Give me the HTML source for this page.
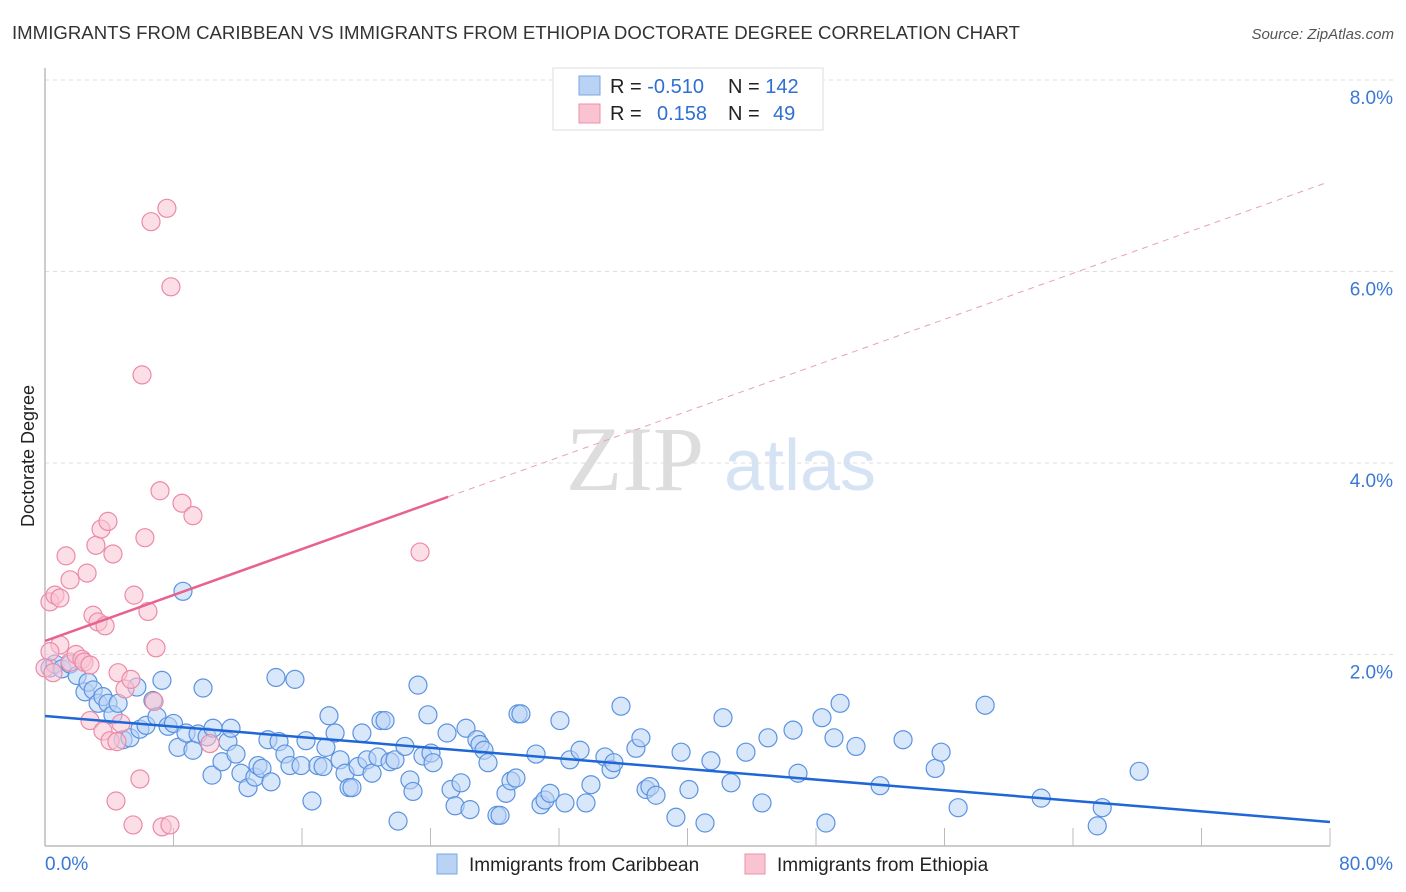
<!DOCTYPE html>
<html><head><meta charset="utf-8"><style>
body{margin:0;background:#fff;font-family:"Liberation Sans",sans-serif;}
svg{display:block}
</style></head><body>
<svg id="chart" width="1406" height="892" xmlns="http://www.w3.org/2000/svg">
<text x="12" y="39" font-size="18.6" fill="#333" textLength="1008">IMMIGRANTS FROM CARIBBEAN VS IMMIGRANTS FROM ETHIOPIA DOCTORATE DEGREE CORRELATION CHART</text>
<text x="1394" y="39" font-size="15" fill="#555" font-style="italic" text-anchor="end">Source: ZipAtlas.com</text>
<text x="34" y="456" font-size="18" fill="#222" text-anchor="middle" transform="rotate(-90 34 456)">Doctorate Degree</text>
<g><text x="635" y="490" font-size="92" fill="#ddd" font-family="Liberation Serif,serif" text-anchor="middle">ZIP</text><text x="800" y="490" font-size="72" fill="#d6e3f4" text-anchor="middle">atlas</text></g>
<g id="grid"></g><g id="axes"></g><g id="pts"></g><g id="lines"></g>
<g>
<rect x="553" y="68" width="270" height="62" fill="#fff" stroke="#ddd"/>
<rect x="579" y="76" width="21" height="19" fill="#b9d3f5" stroke="#7aa6e3"/>
<rect x="579" y="104" width="21" height="19" fill="#f9c3d2" stroke="#ee8fab"/>
<text x="610" y="93" font-size="20" fill="#222">R = <tspan fill="#2f6fd3">-0.510</tspan></text>
<text x="728" y="93" font-size="20" fill="#222">N = <tspan fill="#2f6fd3">142</tspan></text>
<text x="610" y="120" font-size="20" fill="#222">R = <tspan fill="#2f6fd3" x="657">0.158</tspan></text>
<text x="728" y="120" font-size="20" fill="#222">N = <tspan fill="#2f6fd3" x="773">49</tspan></text>
</g>
<g>
<rect x="437" y="854" width="20" height="20" fill="#b9d3f5" stroke="#7aa6e3"/>
<text x="469" y="871" font-size="19" fill="#222">Immigrants from Caribbean</text>
<rect x="745" y="854" width="20" height="20" fill="#f9c3d2" stroke="#ee8fab"/>
<text x="777" y="871" font-size="19" fill="#222">Immigrants from Ethiopia</text>
</g>
</svg>
<script>
const yTicks=[2,4,6,8];
const yTickLabels=["2.0%","4.0%","6.0%","8.0%"];
const xEndLabels=["0.0%","80.0%"];
const caribbeanX=[0.31,0.62,1.06,1.56,2.0,2.49,2.68,3.0,3.31,3.61,3.92,4.23,4.55,4.86,5.29,5.72,5.91,6.29,6.72,6.97,7.28,7.66,8.0,8.28,8.59,8.78,9.21,9.53,9.84,10.09,10.4,10.46,11.02,11.39,11.58,11.89,12.2,12.64,13.07,13.26,13.51,13.88,14.07,14.38,14.57,14.94,15.25,15.56,15.94,16.25,16.62,16.99,17.31,17.49,17.68,18.06,18.37,18.68,18.93,19.11,19.49,19.73,20.05,20.36,20.73,20.92,21.17,21.48,21.79,21.98,22.41,22.72,22.91,23.22,23.53,23.84,24.03,24.16,25.03,25.28,25.53,25.9,26.21,26.46,26.89,27.08,27.33,27.58,28.14,28.33,28.7,29.01,29.32,29.45,29.63,30.57,30.88,31.13,31.44,32.06,32.37,32.68,33.31,33.68,33.99,34.86,35.24,35.42,35.86,36.79,37.1,37.42,37.66,38.04,39.28,39.6,40.09,41.09,41.46,42.21,42.71,43.64,44.64,45.01,46.57,46.88,48.37,48.62,49.12,49.5,50.49,51.99,53.42,55.42,55.79,56.85,58.53,62.02,65.51,65.82,68.12];
const caribbeanY=[1.86,1.9,1.85,1.9,1.78,1.61,1.71,1.63,1.49,1.56,1.49,1.37,1.49,1.11,1.13,1.66,1.22,1.26,1.52,1.35,1.73,1.25,1.28,1.03,2.66,1.18,1.00,1.17,1.65,1.14,0.74,1.23,0.88,1.09,1.23,0.96,0.76,0.61,0.72,0.84,0.81,1.11,0.67,1.76,1.09,0.96,0.84,1.74,0.84,1.10,0.47,0.84,0.83,1.03,1.36,1.18,0.90,0.76,0.61,0.61,0.83,1.18,0.90,0.76,0.93,1.31,1.31,0.88,0.90,0.26,1.04,0.69,0.57,1.68,0.94,1.37,0.97,0.87,1.18,0.59,0.42,0.66,1.23,0.38,1.11,1.06,1.00,0.87,0.32,0.32,0.55,0.68,0.71,1.38,1.38,0.96,0.43,0.48,0.55,1.31,0.45,0.90,1.00,0.45,0.64,0.93,0.80,0.87,1.46,1.02,1.13,0.59,0.62,0.53,0.30,0.98,0.59,0.24,0.89,1.34,0.66,0.98,0.45,1.13,1.21,0.76,1.34,0.24,1.13,1.49,1.04,0.63,1.11,0.81,0.98,0.40,1.47,0.50,0.21,0.40,0.78];
const ethiopiaX=[0.31,0.62,0.93,1.56,1.31,2.62,2.99,3.17,3.49,3.92,4.23,3.30,3.74,0.93,1.56,1.93,2.30,2.43,2.80,4.55,4.98,5.35,6.22,6.79,6.91,5.54,6.41,2.80,3.61,4.05,4.48,4.73,5.91,4.42,5.48,7.29,7.78,6.04,6.60,7.59,7.84,7.16,8.53,9.21,23.35,10.27,0.31,0.0,0.50];
const ethiopiaY=[2.55,2.62,2.59,2.78,3.03,2.85,2.41,3.14,3.31,3.39,3.05,2.34,2.30,2.10,1.92,2.00,1.95,1.92,1.89,1.81,1.64,1.74,3.22,1.51,2.07,2.62,2.45,1.31,1.20,1.10,1.09,1.28,0.70,0.47,0.22,0.20,0.22,4.92,6.52,6.66,5.84,3.71,3.58,3.45,3.07,1.07,2.03,1.86,1.81];
const caribbeanTrend=[1.358,-0.01384];
const ethiopiaTrend=[2.141,0.06];
</script>
<script>
const X0=45,X1=1330,Y0=846,PPU=95.75;
const xs=v=>X0+(v/80)*(X1-X0);
const ys=v=>Y0-v*PPU;
const NS="http://www.w3.org/2000/svg";
function mk(t,a,p){const e=document.createElementNS(NS,t);for(const k in a)e.setAttribute(k,a[k]);p.appendChild(e);return e;}
const grid=document.getElementById('grid'),axes=document.getElementById('axes'),pts=document.getElementById('pts'),lines=document.getElementById('lines');
yTicks.forEach((t,i)=>{
  const g=mk('line',{x1:X0,x2:1394,y1:ys(t),y2:ys(t),stroke:'#ddd','stroke-dasharray':'4,4'},grid);
  
  
  const l=mk('text',{x:1393,y:ys(t)+24,'font-size':19,fill:'#3a78d6','text-anchor':'end'},axes);
  l.textContent=yTickLabels[i];
  
  
});
const ax=mk('line',{x1:X0,x2:X1,y1:Y0,y2:Y0,stroke:'#bbb','stroke-width':1.5},axes);


const ay=mk('line',{x1:X0,x2:X0,y1:68,y2:Y0,stroke:'#bbb','stroke-width':1.5},axes);


for(let i=1;i<=10;i++){const tk=mk('line',{x1:xs(i*8),x2:xs(i*8),y1:Y0,y2:Y0-18,stroke:'#bbb'},axes);

}
const xl0=mk('text',{x:45,y:870,'font-size':19,fill:'#3a78d6'},axes);xl0.textContent=xEndLabels[0];


const xl1=mk('text',{x:1393,y:870,'font-size':19,fill:'#3a78d6','text-anchor':'end'},axes);xl1.textContent=xEndLabels[1];


function dots(X,Y,fill,stroke,name){X.forEach((x,i)=>{const c=mk('circle',{cx:xs(x),cy:ys(Y[i]),r:9,fill:fill,'fill-opacity':0.55,stroke:stroke,'stroke-width':1.2},pts);

});}
dots(caribbeanX,caribbeanY,'#b9d3f5','#5b93e0','caribbean-point');
dots(ethiopiaX,ethiopiaY,'#f9c3d2','#ec8aa8','ethiopia-point');
const [ba,bb]=caribbeanTrend;
const bl=mk('line',{x1:xs(0),y1:ys(ba),x2:xs(80),y2:ys(ba+bb*80),stroke:'#1f66d6','stroke-width':2.5},lines);


const [pa,pb]=ethiopiaTrend;
const pl=mk('line',{x1:xs(0),y1:ys(pa),x2:xs(25.1),y2:ys(pa+pb*25.1),stroke:'#e8628e','stroke-width':2.5},lines);


const pd=mk('line',{x1:xs(25.1),y1:ys(pa+pb*25.1),x2:xs(79.8),y2:ys(pa+pb*79.8),stroke:'#e8a0b8','stroke-width':1,'stroke-dasharray':'6,5'},lines);


</script>
</body></html>
